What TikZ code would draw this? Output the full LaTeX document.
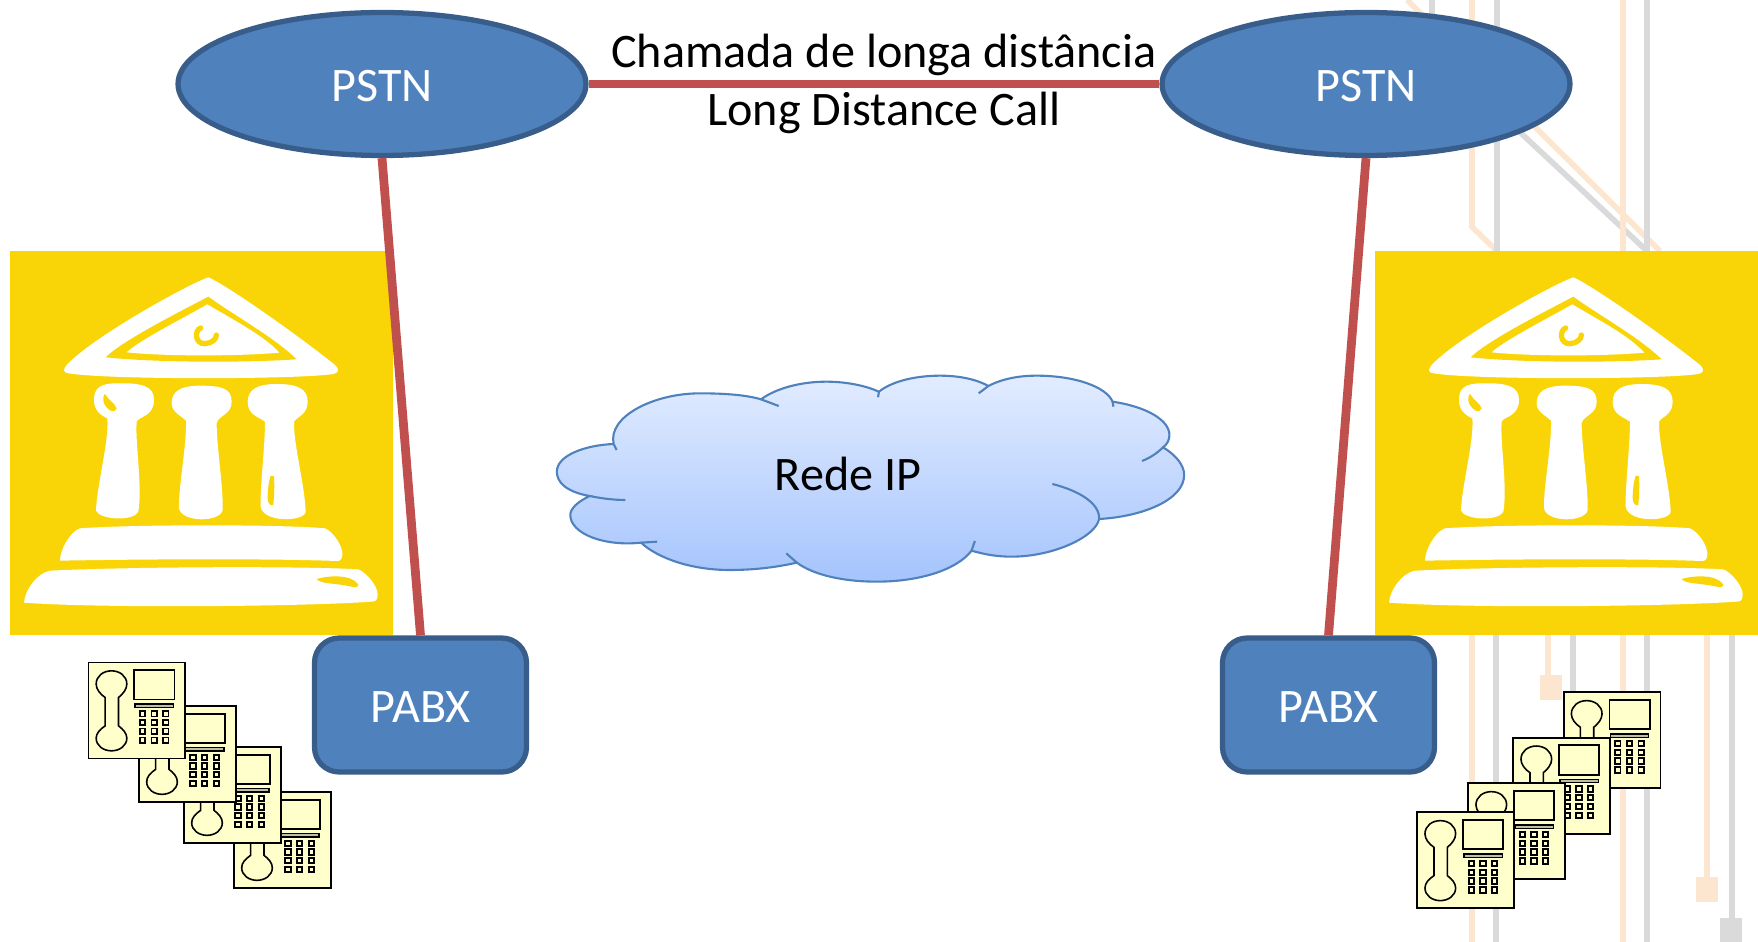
\documentclass[tikz,border=0pt]{standalone}
\usepackage{fontspec}
\setmainfont{Carlito}
\usetikzlibrary{shapes.geometric}
\definecolor{boxblue}{HTML}{4F81BD}
\definecolor{edgeblue}{HTML}{385D8A}
\definecolor{linkred}{HTML}{C0504D}
\definecolor{templeyellow}{HTML}{F9D507}
\definecolor{phoneyellow}{HTML}{FFFFCC}
\definecolor{faintorange}{HTML}{FDE6D0}
\definecolor{faintgray}{HTML}{DADADA}
\definecolor{cloudtop}{HTML}{E2ECFF}
\definecolor{cloudbottom}{HTML}{A5C4FD}
\tikzset{my pstn/.style = {ellipse,draw=edgeblue,fill=boxblue,line width=3pt,inner sep=0pt,
    minimum width=8.16cm,minimum height=2.86cm,text=white,text height=20.2pt,font=\fontsize{27.4}{30}\selectfont},
  my pabx/.style = {rectangle,rounded corners=14pt,draw=edgeblue,fill=boxblue,line width=3pt,inner sep=0pt,
    minimum width=4.24cm,minimum height=2.68cm,text=white,text height=20.2pt,font=\fontsize{27.4}{30}\selectfont},
  my link/.style = {draw=linkred,line width=5pt},
  my label/.style = {text=black,font=\fontsize{27.4}{30}\selectfont,inner sep=0pt},
  my orange/.style = {draw=faintorange,line width=3.2pt},
  my gray/.style = {draw=faintgray,line width=3.2pt},
  temple/.pic = {
    \begin{scope}[scale=1/3]
    \fill[templeyellow] (30,33) rectangle (1179,1185);
    \fill[white] (625,112) .. controls (680,135) and (900,290) .. (1005,375) .. controls (1020,390) and (1015,398) .. (1000,402) .. controls (900,418) and (330,420) .. (205,400) .. controls (190,397) and (188,390) .. (200,375) .. controls (280,290) and (560,135) .. (625,112) -- cycle;
    \fill[templeyellow] (625,170) .. controls (700,225) and (820,290) .. (890,358) .. controls (700,370) and (450,366) .. (317,352) .. controls (370,300) and (540,215) .. (625,170) -- cycle;
    \fill[white] (622,193) .. controls (700,240) and (790,285) .. (838,338) .. controls (700,350) and (480,348) .. (380,337) .. controls (420,300) and (540,240) .. (622,193) -- cycle;
    \draw[templeyellow,line width=3pt,line cap=round] (602,264) .. controls (582,272) and (585,312) .. (615,311) .. controls (635,310) and (650,297) .. (649,285);
    \fill[white] (350,430) .. controls (300,430) and (282,445) .. (282,480) .. controls (282,510) and (300,525) .. (322,535) .. controls (328,600) and (290,740) .. (288,812) .. controls (300,840) and (400,845) .. (415,815) .. controls (428,740) and (405,610) .. (410,545) .. controls (415,530) and (462,530) .. (462,480) .. controls (462,440) and (430,428) .. (350,430) -- cycle;
    \fill[white] (600,437) .. controls (540,437) and (515,455) .. (515,490) .. controls (515,515) and (540,525) .. (558,542) .. controls (560,620) and (535,740) .. (537,805) .. controls (545,848) and (660,848) .. (668,810) .. controls (670,740) and (650,620) .. (650,550) .. controls (655,525) and (695,525) .. (695,485) .. controls (695,445) and (665,437) .. (600,437) -- cycle;
    \fill[white] (830,432) .. controls (770,432) and (743,450) .. (743,485) .. controls (743,525) and (775,530) .. (795,545) .. controls (795,620) and (780,740) .. (782,800) .. controls (790,850) and (915,845) .. (917,815) .. controls (915,740) and (880,610) .. (882,545) .. controls (890,530) and (923,525) .. (923,485) .. controls (923,445) and (890,432) .. (830,432) -- cycle;
    \fill[templeyellow] (315,462) .. controls (325,480) and (345,490) .. (350,505) .. controls (345,520) and (325,515) .. (312,490) .. controls (308,478) and (310,465) .. (315,462) -- cycle;
    \fill[templeyellow] (812,707) -- (822,709) .. controls (824,740) and (822,770) .. (820,795) .. controls (810,798) and (804,790) .. (803,775) .. controls (803,750) and (806,725) .. (812,707) -- cycle;
    \fill[white] (240,865) .. controls (400,853) and (850,853) .. (975,865) .. controls (1000,875) and (1030,920) .. (1027,945) .. controls (1025,960) and (1020,963) .. (1010,963) .. controls (800,955) and (400,958) .. (180,962) .. controls (180,930) and (210,875) .. (240,865) -- cycle;
    \fill[white] (150,992) .. controls (400,980) and (900,978) .. (1075,988) .. controls (1100,998) and (1135,1040) .. (1133,1065) .. controls (1132,1080) and (1128,1085) .. (1115,1085) .. controls (900,1100) and (300,1105) .. (72,1088) .. controls (75,1050) and (110,1000) .. (150,992) -- cycle;
    \fill[templeyellow] (950,1017) .. controls (980,1008) and (1050,1000) .. (1075,1033) .. controls (1075,1043) and (1065,1043) .. (1045,1038) .. controls (1010,1030) and (960,1032) .. (950,1017) -- cycle;
    \end{scope}
  },
  phone/.pic = {
    \begin{scope}[scale=1/3]
    \draw[fill=phoneyellow,line width=1pt] (0,0) rectangle (290,288);
    \draw[line width=0.9pt] (50,105) .. controls (35,95) and (23,80) .. (23,65) .. controls (23,40) and (45,25) .. (69,25) .. controls (93,25) and (115,40) .. (115,65) .. controls (115,80) and (103,95) .. (90,105) -- (90,190) .. controls (103,200) and (115,212) .. (115,227) .. controls (115,250) and (93,265) .. (69,265) .. controls (45,265) and (23,250) .. (23,227) .. controls (23,212) and (35,200) .. (50,190) -- cycle;
    \draw[line width=1pt] (137,23) rectangle (258,111);
    \draw[fill=phoneyellow!50!gray,line width=0.8pt] (140,125) rectangle (255,135);
    \foreach \kx in {162,197,232} \foreach \ky in {154,180,206,233}
      \draw[line width=1pt] (\kx-8,\ky-8) rectangle (\kx+8,\ky+8);
    \end{scope}
  }}

\begin{document}
\begin{tikzpicture}[x=0.02cm,y=-0.02cm]
        \useasboundingbox (0,0) rectangle (1758,942);
        \path[my orange] (1407,0) -- (1660,251);
        \path[my gray] (1432,0) -- (1432,50) -- (1647,251);
        \path[my orange] (1472,0) -- (1472,227) -- (1497,251);
        \path[my gray] (1497,0) -- (1497,251);
        \path[my orange] (1623,0) -- (1623,251);
        \path[my gray] (1647,0) -- (1647,251);
        \path[my orange] (1472,635) -- (1472,942);
        \path[my gray] (1496,635) -- (1496,942);
        \path[my orange] (1548,635) -- (1548,680);
        \fill[faintorange] (1540,675) rectangle (1562,700);
        \path[my gray] (1573,635) -- (1573,720);
        \path[my orange] (1623,635) -- (1623,942);
        \path[my gray] (1647,635) -- (1647,942);
        \path[my orange] (1707,635) -- (1707,880);
        \fill[faintorange] (1696,877) rectangle (1718,902);
        \path[my gray] (1732,635) -- (1732,920);
        \fill[faintgray] (1720,918) rectangle (1742,942);
        \pic (templel) at (0,240) {temple};
        \pic (templer) at (1365,240) {temple};
        \begin{scope}[shift={(540,360)},xscale=0.421,yscale=1/3]
        \path[draw=boxblue,line width=1.2pt,top color=cloudtop,bottom color=cloudbottom]
            (118,408) .. controls (60,395) and (40,365) .. (40,335) .. controls (40,285) and (110,255) .. (175,252)
            .. controls (160,170) and (270,100) .. (380,100) .. controls (440,100) and (490,105) .. (525,118)
            .. controls (560,85) and (620,65) .. (680,65) .. controls (730,65) and (775,78) .. (805,95)
            .. controls (840,60) and (900,47) .. (950,47) .. controls (1000,47) and (1040,60) .. (1065,78)
            .. controls (1100,55) and (1140,47) .. (1180,47) .. controls (1270,47) and (1345,80) .. (1360,125)
            .. controls (1440,140) and (1495,180) .. (1495,225) .. controls (1495,240) and (1490,252) .. (1480,262)
            .. controls (1510,285) and (1530,315) .. (1530,345) .. controls (1530,420) and (1430,470) .. (1328,477)
            .. controls (1320,530) and (1220,590) .. (1120,590) .. controls (1085,590) and (1055,583) .. (1025,572)
            .. controls (990,630) and (900,665) .. (800,665) .. controls (720,665) and (650,645) .. (610,608)
            .. controls (560,622) and (510,630) .. (450,630) .. controls (360,630) and (280,595) .. (240,548)
            .. controls (150,560) and (72,520) .. (72,465) .. controls (72,445) and (90,425) .. (118,408) -- cycle;
        \draw[boxblue,line width=1.2pt] (118,408) .. controls (145,415) and (175,420) .. (203,420);
        \draw[boxblue,line width=1.2pt] (175,252) -- (182,270);
        \draw[boxblue,line width=1.2pt] (525,118) -- (567,138);
        \draw[boxblue,line width=1.2pt] (805,95) -- (803,112);
        \draw[boxblue,line width=1.2pt] (1065,78) -- (1042,100);
        \draw[boxblue,line width=1.2pt] (1360,125) -- (1362,140);
        \draw[boxblue,line width=1.2pt] (1480,262) .. controls (1465,280) and (1450,293) .. (1430,303);
        \draw[boxblue,line width=1.2pt] (1217,372) .. controls (1280,392) and (1330,430) .. (1328,477);
        \draw[boxblue,line width=1.2pt] (1033,543) -- (1025,572);
        \draw[boxblue,line width=1.2pt] (585,580) -- (610,608);
        \draw[boxblue,line width=1.2pt] (240,548) -- (278,545);
        \end{scope}
        \path (382,84) node[my pstn] (pstnl) {PSTN}
        (1366,84) node[my pstn] (pstnr) {PSTN}
        (420.5,705) node[my pabx] (pabxl) {PABX}
        (1328.5,705) node[my pabx] (pabxr) {PABX}
        (848,474) node[my label] (redeip) {Rede IP};
        \path
            (pstnl.east) edge[my link] node[my label,above,xshift=5.6pt,yshift=2.2pt] {Chamada de longa distância}
                node[my label,below,xshift=5.6pt,yshift=-2.2pt] {Long Distance Call} (pstnr.west)
            (pstnl.south) edge[my link] (pabxl.north)
            (pstnr.south) edge[my link] (pabxr.north);
        \pic (phonel4) at (234,792) {phone};
        \pic (phonel3) at (184,747) {phone};
        \pic (phonel2) at (139,706) {phone};
        \pic (phonel1) at (88.5,662.5) {phone};
        \pic (phoner4) at (1563.7,692.3) {phone};
        \pic (phoner3) at (1513.3,737.7) {phone};
        \pic (phoner2) at (1468.3,783.3) {phone};
        \pic (phoner1) at (1417.3,812.3) {phone};
        \end{tikzpicture}
\end{document}
